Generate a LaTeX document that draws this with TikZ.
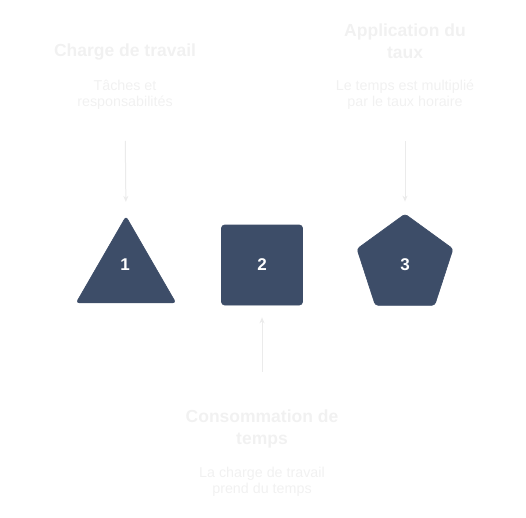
\documentclass[tikz,border=0pt]{standalone}
\usepackage{fontspec}
\setmainfont{Liberation Sans}
\usepackage{xcolor}
\usetikzlibrary{shapes,arrows.meta,positioning,calc}
\definecolor{slate}{HTML}{3D4D68}
\definecolor{faint}{HTML}{F1F1F1}
\definecolor{faintline}{HTML}{EBEBEB}

\begin{document}
\begin{tikzpicture}[x=1bp, y=-1bp, >={Stealth[length=6bp,width=5bp]}]
        % Styles
        \tikzstyle{title} = [text=faint, font=\bfseries\fontsize{17.5bp}{22bp}\selectfont, align=center, inner sep=0pt]
        \tikzstyle{desc} = [text=faint, font=\fontsize{14.3bp}{16bp}\selectfont, align=center, inner sep=0pt]
        \tikzstyle{shapebox} = [fill=slate, draw=slate, line width=0.6bp, rounded corners=3bp, inner sep=0pt]
        \tikzstyle{num} = [text=white, font=\bfseries\fontsize{17bp}{20bp}\selectfont]
        \tikzstyle{link} = [draw=faintline, ->, line width=1bp]

        \useasboundingbox (0,0) rectangle (526,518);

        % Shapes
        \node [shapebox, regular polygon, regular polygon sides=3, minimum size=115bp] (tri) at (126,274) {};
        \node [shapebox, rectangle, minimum width=81bp, minimum height=80bp] (sq) at (262,265) {};
        \node [shapebox, regular polygon, regular polygon sides=5, minimum size=101bp] (pent) at (405,264.5) {};
        \node [num] (n1) at (125,265) {1};
        \node [num] (n2) at (262,265) {2};
        \node [num] (n3) at (405,265) {3};

        % Labels
        \node [title] (tit1) at (125,52) {Charge de travail};
        \node [desc] (desc1) at (125,95) {Tâches et\\responsabilités};
        \node [title] (tit3) at (405,41) {Application du\\taux};
        \node [desc] (desc3) at (405,95) {Le temps est multiplié\\par le taux horaire};
        \node [title] (tit2) at (262,429) {Consommation de\\temps};
        \node [desc] (desc2) at (262,482) {La charge de travail\\prend du temps};

        % Edges
        \path [link, shorten <=31bp, shorten >=14bp] (desc1.south) -- (tri.north);
        \path [link, shorten <=31bp, shorten >=12bp] (desc3.south) -- (pent.north);
        \path [link, shorten <=38bp, shorten >=12bp] (tit2.north) -- (sq.south);
    \end{tikzpicture}
\end{document}
